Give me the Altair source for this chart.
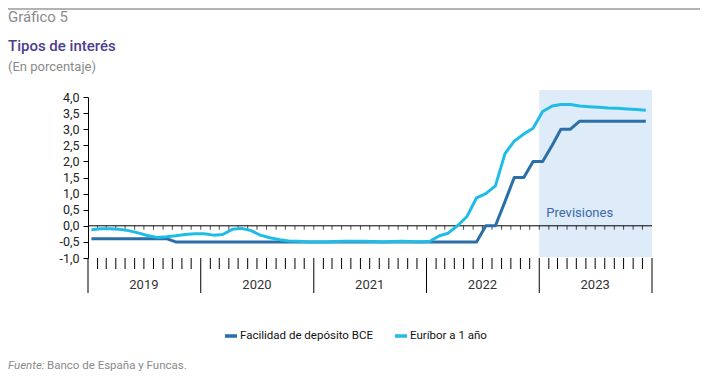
import altair as alt
import pandas as pd

years = [2019, 2020, 2021, 2022, 2023]
series_names = ["Facilidad de depósito BCE", "Euríbor a 1 año"]
series_colors = ["#2a6fa8", "#1fbde6"]

bce = [
    -0.40, -0.40, -0.40, -0.40, -0.40, -0.40, -0.40, -0.40, -0.40, -0.50, -0.50, -0.50,
    -0.50, -0.50, -0.50, -0.50, -0.50, -0.50, -0.50, -0.50, -0.50, -0.50, -0.50, -0.50,
    -0.50, -0.50, -0.50, -0.50, -0.50, -0.50, -0.50, -0.50, -0.50, -0.50, -0.50, -0.50,
    -0.50, -0.50, -0.50, -0.50, -0.50, -0.50, 0.00, 0.00, 0.75, 1.50, 1.50, 2.00,
    2.00, 2.50, 3.00, 3.00, 3.25, 3.25, 3.25, 3.25, 3.25, 3.25, 3.25, 3.25,
]
euribor = [
    -0.12, -0.09, -0.09, -0.11, -0.15, -0.22, -0.30, -0.36, -0.34, -0.31, -0.27, -0.25,
    -0.25, -0.29, -0.27, -0.11, -0.08, -0.15, -0.29, -0.37, -0.43, -0.47, -0.48, -0.50,
    -0.50, -0.50, -0.49, -0.48, -0.48, -0.48, -0.49, -0.50, -0.49, -0.48, -0.49, -0.50,
    -0.48, -0.31, -0.23, 0.01, 0.29, 0.87, 1.00, 1.24, 2.24, 2.63, 2.85, 3.03,
    3.55, 3.72, 3.77, 3.77, 3.72, 3.70, 3.68, 3.66, 3.65, 3.63, 3.61, 3.59,
]
y_ticks = [-1.0, -0.5, 0.0, 0.5, 1.0, 1.5, 2.0, 2.5, 3.0, 3.5, 4.0]
forecast_start = "2023-01-01T00:00:00"
forecast_end = "2024-01-01T00:00:00"

W, H = 564, 161
FONT = "Roboto, sans-serif"

# ---- tables ----
rows = []
for name, vals in zip(series_names, [bce, euribor]):
    for i, v in enumerate(vals):
        y = years[i // 12]
        m = i % 12 + 1
        rows.append({"fecha": f"{y}-{m:02d}-12T00:00:00", "serie": name, "valor": v})
lines_df = pd.DataFrame(rows)

bounds = []
for y in years:
    for m in range(1, 13):
        bounds.append({"fecha": f"{y}-{m:02d}-01T00:00:00", "anual": m == 1})
bounds.append({"fecha": f"{years[-1] + 1}-01-01T00:00:00", "anual": True})
bounds_df = pd.DataFrame(bounds)

year_df = pd.DataFrame({"fecha": [f"{y}-07-01T00:00:00" for y in years],
                        "label": [str(y) for y in years]})

x_scale = alt.Scale(domain=[alt.DateTime(year=years[0], month=1, date=1),
                            alt.DateTime(year=years[-1] + 1, month=1, date=1)])
y_scale = alt.Scale(domain=[-1, 4], nice=False)
y_axis = alt.Axis(
    values=y_ticks, title=None, grid=False, domainColor="#000", tickColor="#000",
    tickSize=5, labelPadding=4, labelFontSize=12.5, labelFont=FONT, labelColor="#222",
    labelOverlap=False, labelBound=False, labelFlush=False,
    labelExpr="replace(replace(format(datum.value, '.1f'), '.', ','), '\u2212', '-')")

X = alt.X("fecha:T", scale=x_scale, axis=None)


def Y(field):
    return alt.Y(field, scale=y_scale, axis=y_axis)


shade = alt.Chart(pd.DataFrame({"a": [forecast_start], "b": [forecast_end]})).mark_rect(
    color="#deebf8"
).encode(
    x=alt.X("a:T", scale=x_scale, axis=None), x2="b:T",
    y=alt.value(-7), y2=alt.value(H - 1),
)

prev_text = alt.Chart(pd.DataFrame({"fecha": ["2023-05-12T00:00:00"], "t": ["Previsiones"]})).mark_text(
    font=FONT, fontSize=13, color="#3a69ad", align="center", baseline="middle"
).encode(x=X, y=Y("v:Q"), text="t:N").transform_calculate(v="0.4")

zero_line = alt.Chart(pd.DataFrame({"v": [0]})).mark_rule(color="#000", strokeWidth=1).encode(
    y=Y("v:Q"), x=alt.value(0), x2=alt.value(W),
)

zero_ticks = alt.Chart(bounds_df).mark_tick(
    orient="vertical", size=4, thickness=1, color="#000", yOffset=2
).encode(x=X, y=Y("z:Q")).transform_calculate(z="0").transform_filter(
    "year(datum.fecha) < 2024 && !(month(datum.fecha) == 0 && year(datum.fecha) == 2019)"
)

month_ticks = alt.Chart(bounds_df).mark_rule(color="#000", strokeWidth=1).encode(
    x=X, y=alt.value(H), y2=alt.value(H + 11)
).transform_filter("!datum.anual")

year_sep = alt.Chart(bounds_df).mark_rule(color="#000", strokeWidth=1).encode(
    x=X, y=alt.value(H), y2=alt.value(H + 35)
).transform_filter("datum.anual")

year_labels = alt.Chart(year_df).mark_text(
    font=FONT, fontSize=13, color="#333", baseline="middle"
).encode(x=X, y=alt.value(H + 27), text="label:N")

lines = alt.Chart(lines_df).mark_line(strokeWidth=3, strokeJoin="round").encode(
    x=X,
    y=Y("valor:Q"),
    color=alt.Color("serie:N", scale=alt.Scale(domain=series_names, range=series_colors),
                    legend=alt.Legend(title=None, orient="none", legendX=135, legendY=231,
                                      direction="horizontal", symbolType="stroke",
                                      symbolStrokeWidth=3.5, symbolSize=144,
                                      labelFont=FONT, labelFontSize=11.5, labelColor="#111",
                                      columnPadding=15, labelOffset=1)),
)


def txt(t, x, y, size, color, style="normal", weight="normal"):
    return alt.Chart(pd.DataFrame({"t": [t]})).mark_text(
        font=FONT, fontSize=size, color=color, align="left", baseline="middle",
        fontStyle=style, fontWeight=weight
    ).encode(x=alt.value(x), y=alt.value(y), text="t:N")


def hline(y):
    return alt.Chart(pd.DataFrame({"k": [0]})).mark_rule(color="#9a9a9a", strokeWidth=1.5).encode(
        x=alt.value(-80), x2=alt.value(612), y=alt.value(y)
    )


chart = alt.layer(
    shade, prev_text, zero_line, zero_ticks, month_ticks, year_sep, year_labels, lines,
    hline(-88), hline(283),
    txt("Gráfico 5", -80, -80, 15, "#8a8a8a"),
    txt("Tipos de interés", -80, -51, 15, "#4b3d8f", weight=500),
    txt("(En porcentaje)", -80, -30, 13, "#8a8a8a"),
    txt("Fuente:", -80, 269, 11.5, "#8a8a8a", style="italic"),
    txt("Banco de España y Funcas.", -41, 269, 11.5, "#8a8a8a"),
).properties(
    width=W, height=H,
    autosize=alt.AutoSizeParams(type="none"),
    padding={"left": 80, "top": 89, "right": 50, "bottom": 120},
).configure_view(stroke=None).configure_axis(domainWidth=1)

chart.save("out.html", embed_options={"renderer": "svg", "actions": False})
